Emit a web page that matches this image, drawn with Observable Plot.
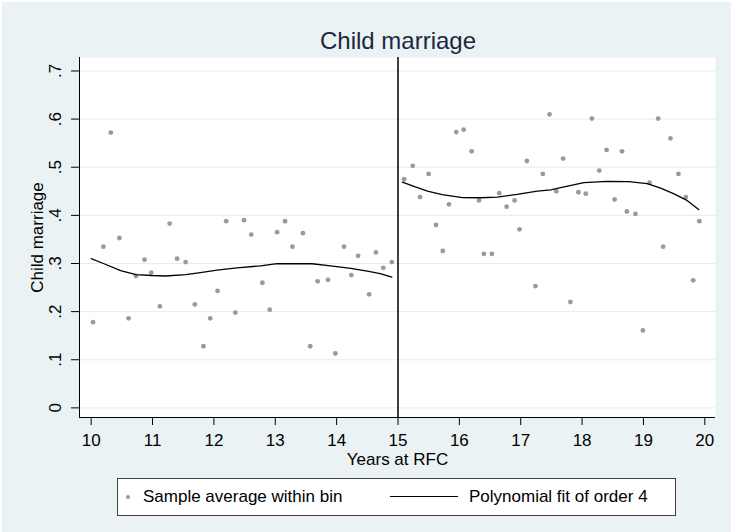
<!DOCTYPE html>
<html><head><meta charset="utf-8">
<script src="https://cdn.jsdelivr.net/npm/d3@7"></script>
<script src="https://cdn.jsdelivr.net/npm/@observablehq/plot@0.6"></script>
<style>
body{margin:0;background:#fff;}
#wrap{position:relative;width:731px;height:532px;background:#EAF2F3;overflow:hidden;font-family:"Liberation Sans",Arial,sans-serif;}
#wrap svg{position:absolute;left:0;top:0;}
.edge{position:absolute;background:#fff;}
#title{position:absolute;left:0;width:796px;top:27px;text-align:center;font-size:24px;line-height:28px;color:#1c2841;}
#legend{position:absolute;left:117px;top:478px;width:557px;height:36px;background:#fff;border:1px solid #404040;font-size:17px;color:#000;}
#legend .item{position:absolute;top:0;height:36px;line-height:36px;white-space:nowrap;}
#legend .dot{position:absolute;left:8px;top:16px;width:4px;height:4px;border-radius:50%;background:#9a9a9a;}
#legend .ln{position:absolute;left:272px;top:17px;width:68px;height:0;border-top:1.5px solid #000;}
</style></head>
<body>
<div id="wrap">
  <div class="edge" style="left:0;top:0;width:731px;height:2px"></div>
  <div class="edge" style="left:0;top:0;width:2px;height:532px"></div>
  <div id="title">Child marriage</div>
  <div id="legend"></div>
</div>
<script>
// Binned sample averages, left of cutoff
const leftX = [10.03,10.20,10.32,10.46,10.61,10.73,10.87,10.98,11.12,11.28,11.40,11.54,11.69,11.83,11.94,12.06,12.20,12.35,12.49,12.61,12.79,12.91,13.03,13.16,13.28,13.45,13.57,13.69,13.86,13.98,14.12,14.24,14.35,14.53,14.64,14.76,14.90];
const leftY = [0.178,0.335,0.572,0.353,0.186,0.274,0.308,0.281,0.211,0.383,0.310,0.303,0.215,0.128,0.186,0.243,0.388,0.198,0.390,0.360,0.260,0.204,0.365,0.388,0.335,0.363,0.128,0.263,0.266,0.113,0.335,0.276,0.316,0.236,0.323,0.291,0.303];
// Binned sample averages, right of cutoff
const rightX = [15.10,15.24,15.36,15.50,15.62,15.73,15.83,15.95,16.07,16.20,16.32,16.40,16.53,16.65,16.77,16.90,16.98,17.10,17.24,17.36,17.47,17.58,17.69,17.81,17.94,18.06,18.16,18.28,18.40,18.53,18.65,18.73,18.87,18.99,19.10,19.24,19.32,19.44,19.57,19.69,19.81,19.91];
const rightY = [0.475,0.503,0.438,0.486,0.380,0.326,0.423,0.573,0.578,0.533,0.431,0.320,0.320,0.446,0.418,0.431,0.371,0.513,0.253,0.486,0.610,0.450,0.518,0.220,0.448,0.445,0.601,0.493,0.536,0.433,0.533,0.408,0.403,0.161,0.468,0.601,0.335,0.560,0.486,0.438,0.265,0.388];
// Polynomial fit (order 4)
const leftFitX = [10.0,10.2,10.48,10.73,10.99,11.21,11.54,11.78,12.05,12.38,12.76,13.03,13.30,13.60,13.90,14.23,14.50,14.71,14.90];
const leftFitY = [0.310,0.300,0.285,0.277,0.275,0.274,0.277,0.281,0.286,0.291,0.295,0.2995,0.2995,0.2995,0.295,0.290,0.284,0.279,0.2716];
const rightFitX = [15.07,15.26,15.48,15.72,16.05,16.35,16.62,16.94,17.27,17.49,17.65,18.03,18.41,18.76,19.06,19.28,19.49,19.71,19.90];
const rightFitY = [0.469,0.460,0.4505,0.443,0.437,0.4366,0.438,0.4435,0.4505,0.453,0.4575,0.468,0.4706,0.470,0.466,0.4567,0.445,0.431,0.412];
const cutoff = [15];
const xTicks = [10,11,12,13,14,15,16,17,18,19,20];
const yTicks = [0,0.1,0.2,0.3,0.4,0.5,0.6,0.7];
const yTickLabels = ["0",".1",".2",".3",".4",".5",".6",".7"];
const xDomain = [9.81, 20.174];
const yDomain = [-0.020, 0.728];
const titleText = "Child marriage";
const xTitle = "Years at RFC";
const yTitle = "Child marriage";
const legendLabels = ["Sample average within bin", "Polynomial fit of order 4"];

const pts = leftX.map((x,i)=>({x, y:leftY[i]})).concat(rightX.map((x,i)=>({x, y:rightY[i]})));
const fitL = leftFitX.map((x,i)=>({x, y:leftFitY[i]}));
const fitR = rightFitX.map((x,i)=>({x, y:rightFitY[i]}));

const chart = Plot.plot({
  width: 731, height: 532,
  marginLeft: 79, marginRight: 16, marginTop: 57, marginBottom: 115,
  style: {background: "transparent", fontFamily: "'Liberation Sans', Arial, sans-serif", fontSize: "17px", color: "#000"},
  x: {domain: xDomain},
  y: {domain: yDomain},
  marks: [
    Plot.frame({fill: "#fff", stroke: "none"}),
    Plot.gridY(yTicks, {stroke: "#E3EDEF", strokeOpacity: 1, strokeWidth: 1}),
    Plot.axisY(yTicks, {tickFormat: d => yTickLabels[yTicks.indexOf(d)], tickRotate: -90, tickSize: 8, tickPadding: 11, label: null, fontSize: 17}),
    Plot.axisX(xTicks, {tickFormat: d => String(d), tickSize: 8, tickPadding: 8, label: null, fontSize: 17}),
    Plot.ruleX([xDomain[0]], {stroke: "#000", strokeWidth: 1}),
    Plot.ruleY([yDomain[0]], {stroke: "#000", strokeWidth: 1}),
    Plot.dot(pts, {x: "x", y: "y", r: 2.4, fill: "#9a9a9a", stroke: "none"}),
    Plot.line(fitL, {x: "x", y: "y", stroke: "#000", strokeWidth: 1.3}),
    Plot.line(fitR, {x: "x", y: "y", stroke: "#000", strokeWidth: 1.3}),
    Plot.ruleX(cutoff, {stroke: "#000", strokeWidth: 1.5}),
    Plot.text([xTitle], {text: d => d, frameAnchor: "bottom", lineAnchor: "middle", dy: 42, fontSize: 17}),
    Plot.text([yTitle], {text: d => d, frameAnchor: "left", textAnchor: "middle", lineAnchor: "middle", dx: -42, rotate: -90, fontSize: 17})
  ]
});
const wrap = document.getElementById("wrap");
wrap.insertBefore(chart, document.getElementById("title"));
document.getElementById("title").textContent = titleText;
const lg = document.getElementById("legend");
lg.innerHTML = `<span class="dot"></span><span class="item" style="left:25px">${legendLabels[0]}</span><span class="ln"></span><span class="item" style="left:351px">${legendLabels[1]}</span>`;
</script>
</body></html>
